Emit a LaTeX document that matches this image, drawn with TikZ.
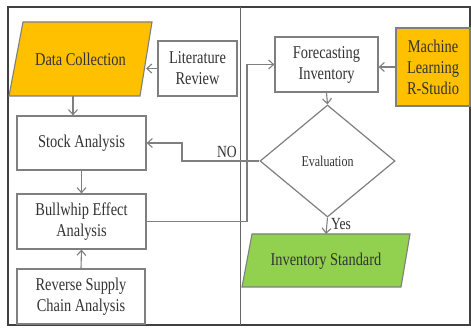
\documentclass[tikz,border=0pt]{standalone}
\usepackage{fontspec}
\setmainfont{Liberation Serif}
\newfontfamily\condfont{Liberation Serif}[FakeStretch=0.8]
\usetikzlibrary{arrows.meta,shapes.geometric}
\definecolor{lc}{HTML}{7F7F7F}
\definecolor{tc}{HTML}{333333}
\definecolor{org}{HTML}{FFC000}
\definecolor{grn}{HTML}{92D050}
\tikzset{
  x=1pt,y=-1pt,
  box/.style={draw=lc,line width=1.2pt,fill=white,inner sep=0pt,align=center,text=tc,
    font=\condfont\fontsize{18}{21}\selectfont},
  lbl/.style={inner sep=0pt,align=center,text=tc,font=\condfont\fontsize{18}{21}\selectfont},
  conn/.style={draw=lc,line width=1.1pt,-{Straight Barb[length=5pt,width=9pt]}},
  para/.style={draw=lc,line width=1.1pt}
}
\begin{document}
\begin{tikzpicture}
\useasboundingbox (0,0) rectangle (471,328);
\fill[white] (0,0) rectangle (471,328);
% frame
\draw[draw=black!75,line width=1.5pt] (8,7) rectangle (470,325);
\draw[draw=black!60,line width=1pt] (240,7) -- (240,325);
% Data collection parallelogram
\draw[para,fill=org] (23,22) -- (152,22) -- (140,96) -- (9,96) -- cycle;
\node[lbl] (dc) at (80.5,59) {Data Collection};
\coordinate (dcR) at (146,71);
\coordinate (dcB) at (73,96);
% Inventory standard parallelogram
\draw[para,fill=grn] (252,234) -- (410,234) -- (401,287) -- (242,287) -- cycle;
\node[lbl] (inv) at (326,261) {Inventory Standard};
\coordinate (invT) at (326,234);
% boxes
\node[box,minimum width=79pt,minimum height=55pt] (lit) at (197.5,68.5) {Literature\\Review};
\node[box,minimum width=129pt,minimum height=54pt] (stock) at (81.5,143) {Stock Analysis};
\node[box,minimum width=129pt,minimum height=55pt] (bull) at (81.5,221.5) {Bullwhip Effect\\Analysis};
\node[box,minimum width=128pt,minimum height=55pt] (rev) at (81,296.5) {Reverse Supply\\Chain Analysis};
\node[box,minimum width=103pt,minimum height=55pt] (fore) at (326.5,64.5) {Forecasting\\Inventory};
\node[box,fill=org,minimum width=74pt,minimum height=78pt] (ml) at (433,67) {Machine\\Learning\\R-Studio};
\node[box,shape=diamond,minimum width=135pt,minimum height=112pt,font=\condfont\fontsize{15}{18}\selectfont] (dia) at (327.5,161) {Evaluation};
% connectors
\draw[conn] (lit.west) -- (lit.west -| dcR);
\draw[conn] (dcB) -- (dcB |- stock.north);
\draw[conn] (stock.south) -- (bull.north);
\draw[conn] (rev.north) -- (bull.south);
\coordinate (bx) at (247,221.5);
\coordinate (by) at (247,64.5);
\draw[conn] (bull.east) -- (bx) -- (by) -- (fore.west);
\draw[conn] (ml.west) -- (ml.west -| fore.east);
\draw[conn] (fore.south) -- (dia.north);
\coordinate (n1) at (182,161);
\coordinate (n2) at (182,143);
\draw[conn] (dia.west) -- (n1) -- (n2) -- (stock.east);
\node[lbl,anchor=south east,font=\condfont\fontsize{17}{20}\selectfont] (no) at (237,158) {NO};
\draw[conn] (dia.south) -- (invT);
\node[lbl,anchor=west,font=\condfont\fontsize{17}{20}\selectfont] (yes) at (331,224) {Yes};
\end{tikzpicture}
\end{document}
